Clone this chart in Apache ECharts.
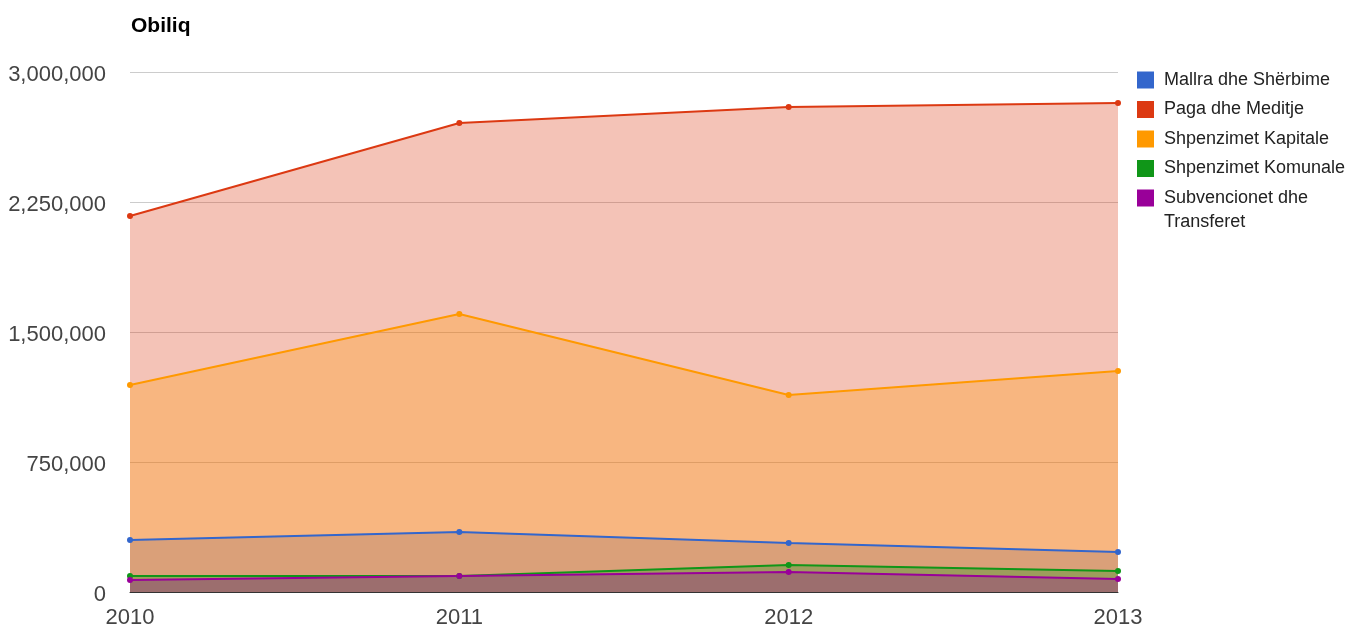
<!DOCTYPE html>
<html lang="sq">
<head>
<meta charset="UTF-8">
<title>Obiliq</title>
<script src="https://cdn.jsdelivr.net/npm/echarts@6/dist/echarts.min.js"></script>
<style>
    html, body { margin: 0; padding: 0; background: #fff; }
    #chart { width: 1358px; height: 630px; }
</style>
</head>
<body>
<div id="chart"></div>
<script>
    // vitet
    var years = ['2010', '2011', '2012', '2013'];
    // shpenzimet sipas kategorive
    var mallra = [300000, 346000, 283000, 231000];
    var paga = [2169000, 2706000, 2798000, 2821000];
    var kapitale = [1194000, 1604000, 1136000, 1275000];
    var komunale = [92000, 92000, 156000, 121000];
    var subvencionet = [69000, 92000, 115000, 75000];
    var yTicks = [0, 750000, 1500000, 2250000, 3000000];

    var names = ['Mallra dhe Shërbime', 'Paga dhe Meditje', 'Shpenzimet Kapitale',
        'Shpenzimet Komunale', 'Subvencionet dhe Transferet'];
    var colors = ['#3366cc', '#dc3912', '#ff9900', '#109618', '#990099'];
    var values = [mallra, paga, kapitale, komunale, subvencionet];

    var font = 'Arial, "Liberation Sans", sans-serif';
    var chart = echarts.init(document.getElementById('chart'));

    // siperfaqet vizatohen sipas rendit, vijat mbi to
    var series = [];
    names.forEach(function (n, i) {
        series.push({
            name: n,
            type: 'line',
            data: values[i],
            symbol: 'none',
            lineStyle: { width: 0 },
            itemStyle: { color: colors[i] },
            areaStyle: { color: colors[i], opacity: 0.3 },
            emphasis: { disabled: true },
            z: 1
        });
    });
    names.forEach(function (n, i) {
        series.push({
            name: n,
            type: 'line',
            data: values[i],
            symbol: 'circle',
            symbolSize: 6,
            lineStyle: { width: 2, color: colors[i] },
            itemStyle: { color: colors[i] },
            emphasis: { disabled: true },
            z: 3
        });
    });

    chart.setOption({
        animation: false,
        color: colors,
        title: {
            text: 'Obiliq',
            left: 126,
            top: 11,
            textStyle: { fontFamily: font, fontSize: 21, fontWeight: 'bold', color: '#000' }
        },
        legend: {
            orient: 'vertical',
            left: 1132,
            top: 66,
            icon: 'rect',
            itemWidth: 17,
            itemHeight: 17,
            itemGap: 11.5,
            data: names,
            selectedMode: false,
            textStyle: { fontFamily: font, fontSize: 18, color: '#222', padding: [0, 0, 0, 5] },
            formatter: function (n) {
                return n === 'Subvencionet dhe Transferet' ? 'Subvencionet dhe' : n;
            }
        },
        graphic: [{
            type: 'text',
            left: 1164,
            top: 213,
            style: { text: 'Transferet', fontFamily: font, fontSize: 18, fill: '#222' }
        }],
        grid: { left: 130, right: 240, top: 72, bottom: 38, containLabel: false },
        xAxis: {
            type: 'category',
            data: years,
            boundaryGap: false,
            axisLine: { lineStyle: { color: '#333', width: 1 } },
            axisTick: { show: false },
            axisLabel: { fontFamily: font, fontSize: 22, color: '#444', margin: 15 }
        },
        yAxis: {
            type: 'value',
            min: yTicks[0],
            max: yTicks[yTicks.length - 1],
            interval: yTicks[1] - yTicks[0],
            axisLine: { show: false },
            axisTick: { show: false },
            splitLine: { lineStyle: { color: '#cccccc', width: 1 } },
            axisLabel: {
                fontFamily: font, fontSize: 22, color: '#444', margin: 24,
                formatter: function (v) { return '{a|' + v.toLocaleString('en-US') + '}'; },
                rich: { a: { fontFamily: font, fontSize: 22, color: '#444', padding: [6, 0, 0, 0] } }
            }
        },
        series: series
    });
</script>
</body>
</html>
